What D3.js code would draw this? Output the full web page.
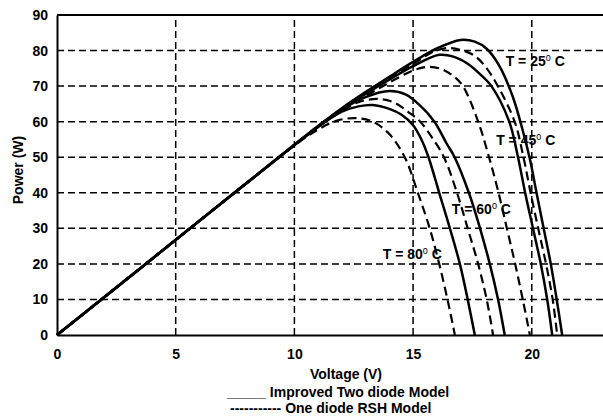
<!DOCTYPE html>
<html>
<head>
<meta charset="utf-8">
<script src="https://cdn.jsdelivr.net/npm/d3@7"></script>
<style>
  body { margin: 0; background: #fff; }
  text { font-family: "Liberation Sans", Arial, sans-serif; font-weight: bold; fill: #000; }
</style>
</head>
<body>
<div id="chart"></div>
<script>
const ancho = 603;
const alto = 417;
const margen = { superior: 15, inferior: 82, izquierdo: 57, derecho: 0 };

// ticks
const voltTicks = [0, 5, 10, 15, 20];
const powerTicks = [0, 10, 20, 30, 40, 50, 60, 70, 80, 90];

// [voltage, power]
const improved25 = [[0,0],[4,21.4],[8,42.8],[11,58.8],[12,63.8],[13,68.3],[14,72.6],[15,76.8],[16,80.6],[17,83],[17.6,82.5],[18.1,80.5],[18.65,75.5],[19.2,67],[19.6,58],[19.92,49.5],[20.2,40],[20.5,30],[20.8,20],[21.05,10],[21.28,0]];
const rsh25 = [[0,0],[4,21.4],[8,42.8],[11,58.8],[12,63.7],[13,68.2],[14,72.3],[15,76.2],[15.8,79.5],[16.4,80.7],[17,80.2],[17.6,78.5],[18.1,75],[18.57,70],[19.28,60],[19.65,50],[19.95,40],[20.27,30],[20.6,20],[20.88,10],[21.07,0]];
const improved45 = [[0,0],[4,21.4],[8,42.8],[11,58.7],[12,63.5],[13,67.8],[14,71.8],[15,75.6],[16.1,78.8],[16.7,78.3],[17.3,76.3],[17.8,73.5],[18.3,70],[19.05,60],[19.42,50],[19.72,40],[20.05,30],[20.38,20],[20.65,10],[20.86,0]];
const rsh45 = [[0,0],[4,21.4],[8,42.8],[11,58.6],[12,63.2],[13,67.2],[14,71],[15,74.4],[15.6,75.4],[16.2,74.8],[16.7,72.8],[17.1,70],[17.74,60],[18.2,50],[18.6,40],[18.95,30],[19.3,20],[19.62,10],[19.92,0]];
const improved60 = [[0,0],[4,21.4],[8,42.8],[11,58.6],[12,63.4],[13,66.9],[14,68.6],[14.7,67.6],[15.3,64.5],[15.9,60],[16.4,54],[16.75,50],[17.35,40],[17.82,30],[18.23,20],[18.58,10],[18.86,0]];
const rsh60 = [[0,0],[4,21.4],[8,42.8],[11,58.5],[12,63],[12.7,65.5],[13.5,66.4],[14.2,65.4],[14.8,62.7],[15.3,60],[15.8,55.5],[16.3,50],[16.85,40],[17.3,30],[17.74,20],[18.1,10],[18.37,0]];
const improved80 = [[0,0],[4,21.4],[8,42.8],[11,58.5],[12,62.8],[12.7,64.3],[13.3,64.7],[14,63.6],[14.5,62],[15,59],[15.35,55],[15.65,50],[16.1,40],[16.55,30],[16.97,20],[17.3,10],[17.6,0]];
const rsh80 = [[0,0],[4,21.4],[8,42.8],[10,53.3],[11,57.8],[11.8,60.3],[12.6,61],[13.3,60],[14,56.5],[14.65,50],[15.2,40],[15.7,30],[16.1,20],[16.45,10],[16.76,0]];

const solidCurves = [improved25, improved45, improved60, improved80];
const dashedCurves = [rsh25, rsh45, rsh60, rsh80];

// temperature labels: [temp, voltage, power]
const tempLabels = [["25", 18.9, 75.7], ["45", 18.5, 53.4], ["60", 16.63, 34], ["80", 13.72, 21.3]];

const legendLines = ["_____ Improved Two diode Model", "----------- One diode RSH Model"];

const svg = d3.select("#chart").append("svg")
  .attr("width", ancho)
  .attr("height", alto);

const x = d3.scaleLinear().domain([0, 23]).range([margen.izquierdo, ancho - margen.derecho]);
const y = d3.scaleLinear().domain([0, 90]).range([alto - margen.inferior, margen.superior]);

// grid
const grid = svg.append("g").attr("id", "grid");
grid.selectAll(".gy").data(powerTicks.filter(d => d > 0 && d < 90)).enter()
  .append("line")
  .attr("x1", x(0)).attr("x2", x(23))
  .attr("y1", d => y(d)).attr("y2", d => y(d))
  .attr("stroke", "#000").attr("stroke-width", 1.5)
  .attr("stroke-dasharray", "7,4");
grid.selectAll(".gx").data(voltTicks.filter(d => d > 0)).enter()
  .append("line")
  .attr("x1", d => x(d)).attr("x2", d => x(d))
  .attr("y1", y(0)).attr("y2", y(90))
  .attr("stroke", "#000").attr("stroke-width", 1.5)
  .attr("stroke-dasharray", "7,4");

// frame top
svg.append("line")
  .attr("x1", x(0)).attr("x2", x(23))
  .attr("y1", y(90)).attr("y2", y(90))
  .attr("stroke", "#000").attr("stroke-width", 2);

// axes
const ejeX = d3.axisBottom(x).tickValues(voltTicks).tickSize(0).tickPadding(14);
const ejeY = d3.axisLeft(y).tickValues(powerTicks).tickSize(0).tickPadding(9);

const grupoX = svg.append("g").attr("transform", `translate(0, ${y(0)})`).call(ejeX);
const grupoY = svg.append("g").attr("transform", `translate(${x(0)}, 0)`).call(ejeY);
[grupoX, grupoY].forEach(g => {
  g.select(".domain").attr("stroke", "#000").attr("stroke-width", 2);
  g.selectAll("text").style("font-size", "14px").style("font-family", "Liberation Sans, Arial, sans-serif").style("font-weight", "bold");
});

// curves
const createLine = d3.line()
  .x(d => x(d[0]))
  .y(d => y(d[1]))
  .curve(d3.curveCatmullRom.alpha(0.5));

svg.append("g").selectAll("path").data(solidCurves).enter()
  .append("path")
  .attr("fill", "none").attr("stroke", "#000").attr("stroke-width", 2.5)
  .attr("d", createLine);

svg.append("g").selectAll("path").data(dashedCurves).enter()
  .append("path")
  .attr("fill", "none").attr("stroke", "#000").attr("stroke-width", 2.2)
  .attr("stroke-dasharray", "9,5")
  .attr("d", createLine);

// temperature labels
const lbl = svg.append("g").selectAll("text").data(tempLabels).enter()
  .append("text")
  .attr("x", d => x(d[1]))
  .attr("y", d => y(d[2]))
  .style("font-size", "14px");
lbl.append("tspan").text(d => "T = " + d[0]);
lbl.append("tspan").attr("dy", -5).style("font-size", "9px").style("font-weight", "normal").text("0");
lbl.append("tspan").attr("dy", 5).text(" C");

// axis titles
svg.append("text")
  .attr("x", 346).attr("y", 379)
  .attr("text-anchor", "middle")
  .style("font-size", "14px")
  .text("Voltage (V)");

svg.append("text")
  .attr("transform", `translate(23, ${170}) rotate(-90)`)
  .attr("text-anchor", "middle")
  .style("font-size", "14px")
  .text("Power (W)");

// legend text
svg.append("g").selectAll("text").data(legendLines).enter()
  .append("text")
  .attr("x", (d, i) => i === 0 ? 227 : 230)
  .attr("y", (d, i) => 397 + i * 16)
  .style("font-size", "14px")
  .text(d => d);
</script>
</body>
</html>
